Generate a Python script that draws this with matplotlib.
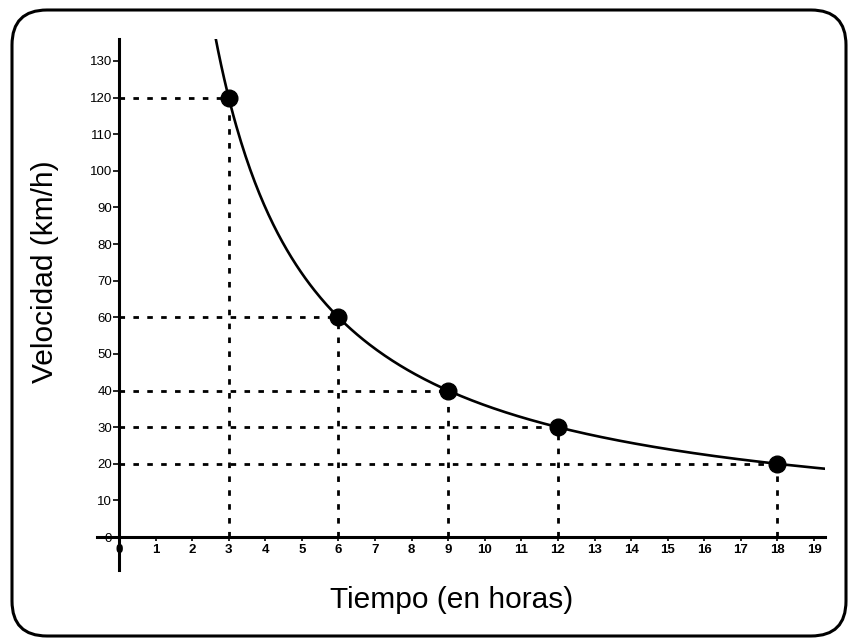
import numpy as np
import matplotlib
matplotlib.use("Agg")
import matplotlib.pyplot as plt
from matplotlib.patches import FancyBboxPatch
from matplotlib.transforms import IdentityTransform

# Data
tiempo = [3, 6, 9, 12, 18]
velocidad = [120, 60, 40, 30, 20]
constante = 360  # velocidad * tiempo
x_ticks = list(range(0, 20))
y_ticks = list(range(0, 140, 10))
x_label = "Tiempo (en horas)"
y_label = "Velocidad (km/h)"

plt.rcParams['font.family'] = ['Liberation Sans', 'DejaVu Sans']

fig = plt.figure(figsize=(8.52, 6.42), dpi=100)
W, H = 852, 642
# axes in pixel coords: left 97, right 825, top 39, bottom 570
ax = fig.add_axes([97 / W, 1 - 570 / H, (825 - 97) / W, (570 - 39) / H])
ax.set_xlim(-0.6, 19.3)
ax.set_ylim(-9, 136)

for s in ['top', 'right']:
    ax.spines[s].set_visible(False)
ax.spines['left'].set_position(('data', 0))
ax.spines['bottom'].set_position(('data', 0))
ax.spines['left'].set_linewidth(2.2)
ax.spines['bottom'].set_linewidth(2.2)

ax.set_xticks(x_ticks)
ax.set_yticks(y_ticks)
ax.set_xticklabels([str(v) for v in x_ticks], fontsize=9.5, fontweight='bold')
ax.set_yticklabels([str(v) for v in y_ticks], fontsize=9.5)
ax.tick_params(axis='y', direction='out', length=4, width=1.2, pad=1)
ax.tick_params(axis='x', direction='out', length=3, width=1.2, pad=2)

# curve
xc = np.linspace(constante / 137.0, 19.3, 400)
ax.plot(xc, constante / xc, color='black', lw=1.9, zorder=3, solid_capstyle='round')

# dashed guide lines
for t, v in zip(tiempo, velocidad):
    ax.plot([0, t], [v, v], color='black', lw=2.0, ls=(0, (2, 3)), zorder=2)
    ax.plot([t, t], [0, v], color='black', lw=2.0, ls=(0, (2, 3)), zorder=2)

ax.plot(tiempo, velocidad, 'o', color='black', markersize=12, zorder=4)

fig.text(452 / W, 1 - 600 / H, x_label, fontsize=21.5, ha='center', va='center')
fig.text(45 / W, 1 - 272 / H, y_label, fontsize=21.5, ha='center', va='center', rotation=90)

border = FancyBboxPatch((12, 6), 834, 626, boxstyle="round,pad=0,rounding_size=35",
                        transform=IdentityTransform(), fill=False, lw=2.2, ec='black')
fig.patches.append(border)

fig.savefig('out.png', dpi=100)
